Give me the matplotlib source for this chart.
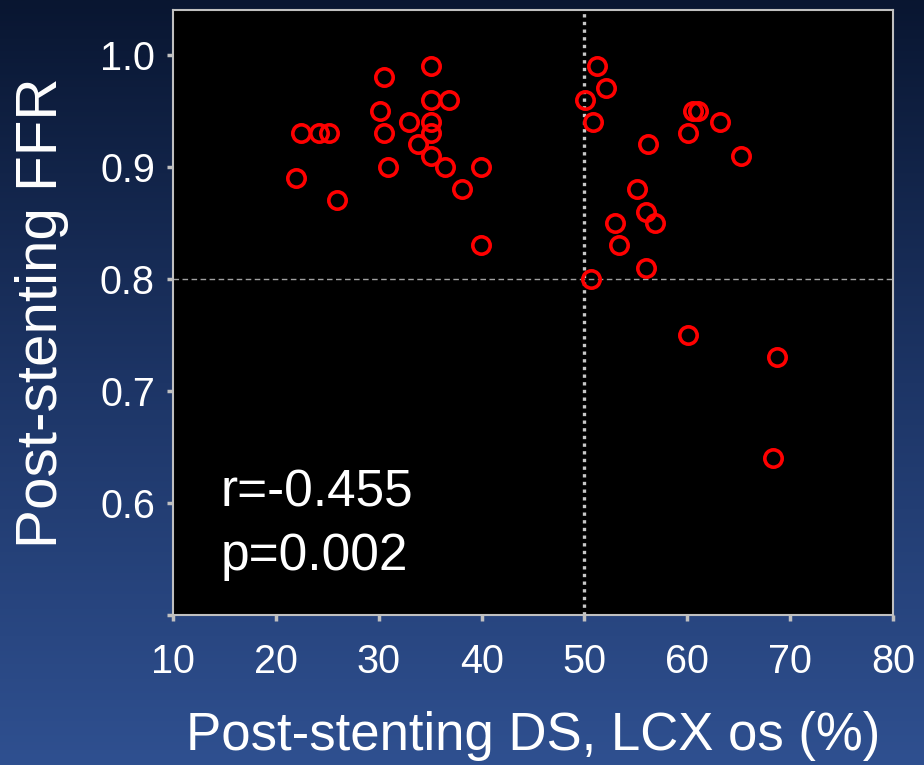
import numpy as np
import matplotlib
matplotlib.use("Agg")
from matplotlib import pyplot as plt
from matplotlib.colors import LinearSegmentedColormap

# post-stenting diameter stenosis (%) and FFR
ds = [35.1, 30.5, 35.1, 36.8, 30.1, 32.9, 35.1, 22.4, 24.2, 25.2, 30.5, 35.1,
      33.8, 35.1, 30.9, 36.4, 39.9, 22.0, 38.1, 25.9, 39.9,
      51.2, 52.1, 50.1, 50.8, 60.6, 61.0, 63.2, 60.1, 56.2, 65.2, 55.1,
      56.0, 56.9, 53.0, 53.4, 56.0, 50.6, 60.1, 68.7, 68.3]
ffr = [0.99, 0.98, 0.96, 0.96, 0.95, 0.94, 0.94, 0.93, 0.93, 0.93, 0.93, 0.93,
       0.92, 0.91, 0.90, 0.90, 0.90, 0.89, 0.88, 0.87, 0.83,
       0.99, 0.97, 0.96, 0.94, 0.95, 0.95, 0.94, 0.93, 0.92, 0.91, 0.88,
       0.86, 0.85, 0.85, 0.83, 0.81, 0.80, 0.75, 0.73, 0.64]
x_ticks = [10, 20, 30, 40, 50, 60, 70, 80]
y_ticks = [0.5, 0.6, 0.7, 0.8, 0.9, 1.0]
y_labels = ['', '0.6', '0.7', '0.8', '0.9', '1.0']
r_text = "r=-0.455"
p_text = "p=0.002"

plt.rcParams['font.family'] = ['Liberation Sans', 'DejaVu Sans']

fig = plt.figure(figsize=(9.24, 7.65), dpi=100)

# background gradient
bg = fig.add_axes([0, 0, 1, 1], zorder=-10)
cmap = LinearSegmentedColormap.from_list('bg', ['#091631', '#1d3566', '#2f5090'])
bg.imshow(np.linspace(0, 1, 256).reshape(-1, 1), aspect='auto', cmap=cmap,
          extent=[0, 1, 0, 1], origin='upper')
bg.axis('off')

ax = fig.add_axes([0.1872, 0.1961, 0.7793, 0.7908])
ax.set_facecolor('black')

ax.plot(ds, ffr, 'o', markerfacecolor='none', markeredgecolor='#ff0000',
        markersize=12.5, markeredgewidth=2.6, zorder=3)

ax.axvline(50, color='#c8c8c8', linestyle=(0, (1, 1.3)), linewidth=2.4, zorder=2)
ax.axhline(0.8, color='#a0a0a0', linestyle=(0, (4, 2.5)), linewidth=1.0, zorder=2)

ax.set_xlim(10, 80)
ax.set_ylim(0.5, 1.04)
ax.set_xticks(x_ticks)
ax.set_yticks(y_ticks)
ax.set_yticklabels(y_labels)

for sp in ax.spines.values():
    sp.set_color('#c0c0c0')
    sp.set_linewidth(1.5)

ax.tick_params(colors='#c0c0c0', length=4, width=2.5, direction='out',
               labelcolor='white', labelsize=28.5)
ax.tick_params(axis='x', pad=16)
ax.tick_params(axis='y', pad=9)

ax.set_xlabel('Post-stenting DS, LCX os (%)', color='white', fontsize=38, labelpad=22)
ax.set_ylabel('Post-stenting FFR', color='white', fontsize=42, labelpad=22)

ax.text(14.6, 0.597, r_text, color='white', fontsize=37, va='baseline', ha='left')
ax.text(14.6, 0.540, p_text, color='white', fontsize=37, va='baseline', ha='left')

fig.savefig('out.png', dpi=100)
